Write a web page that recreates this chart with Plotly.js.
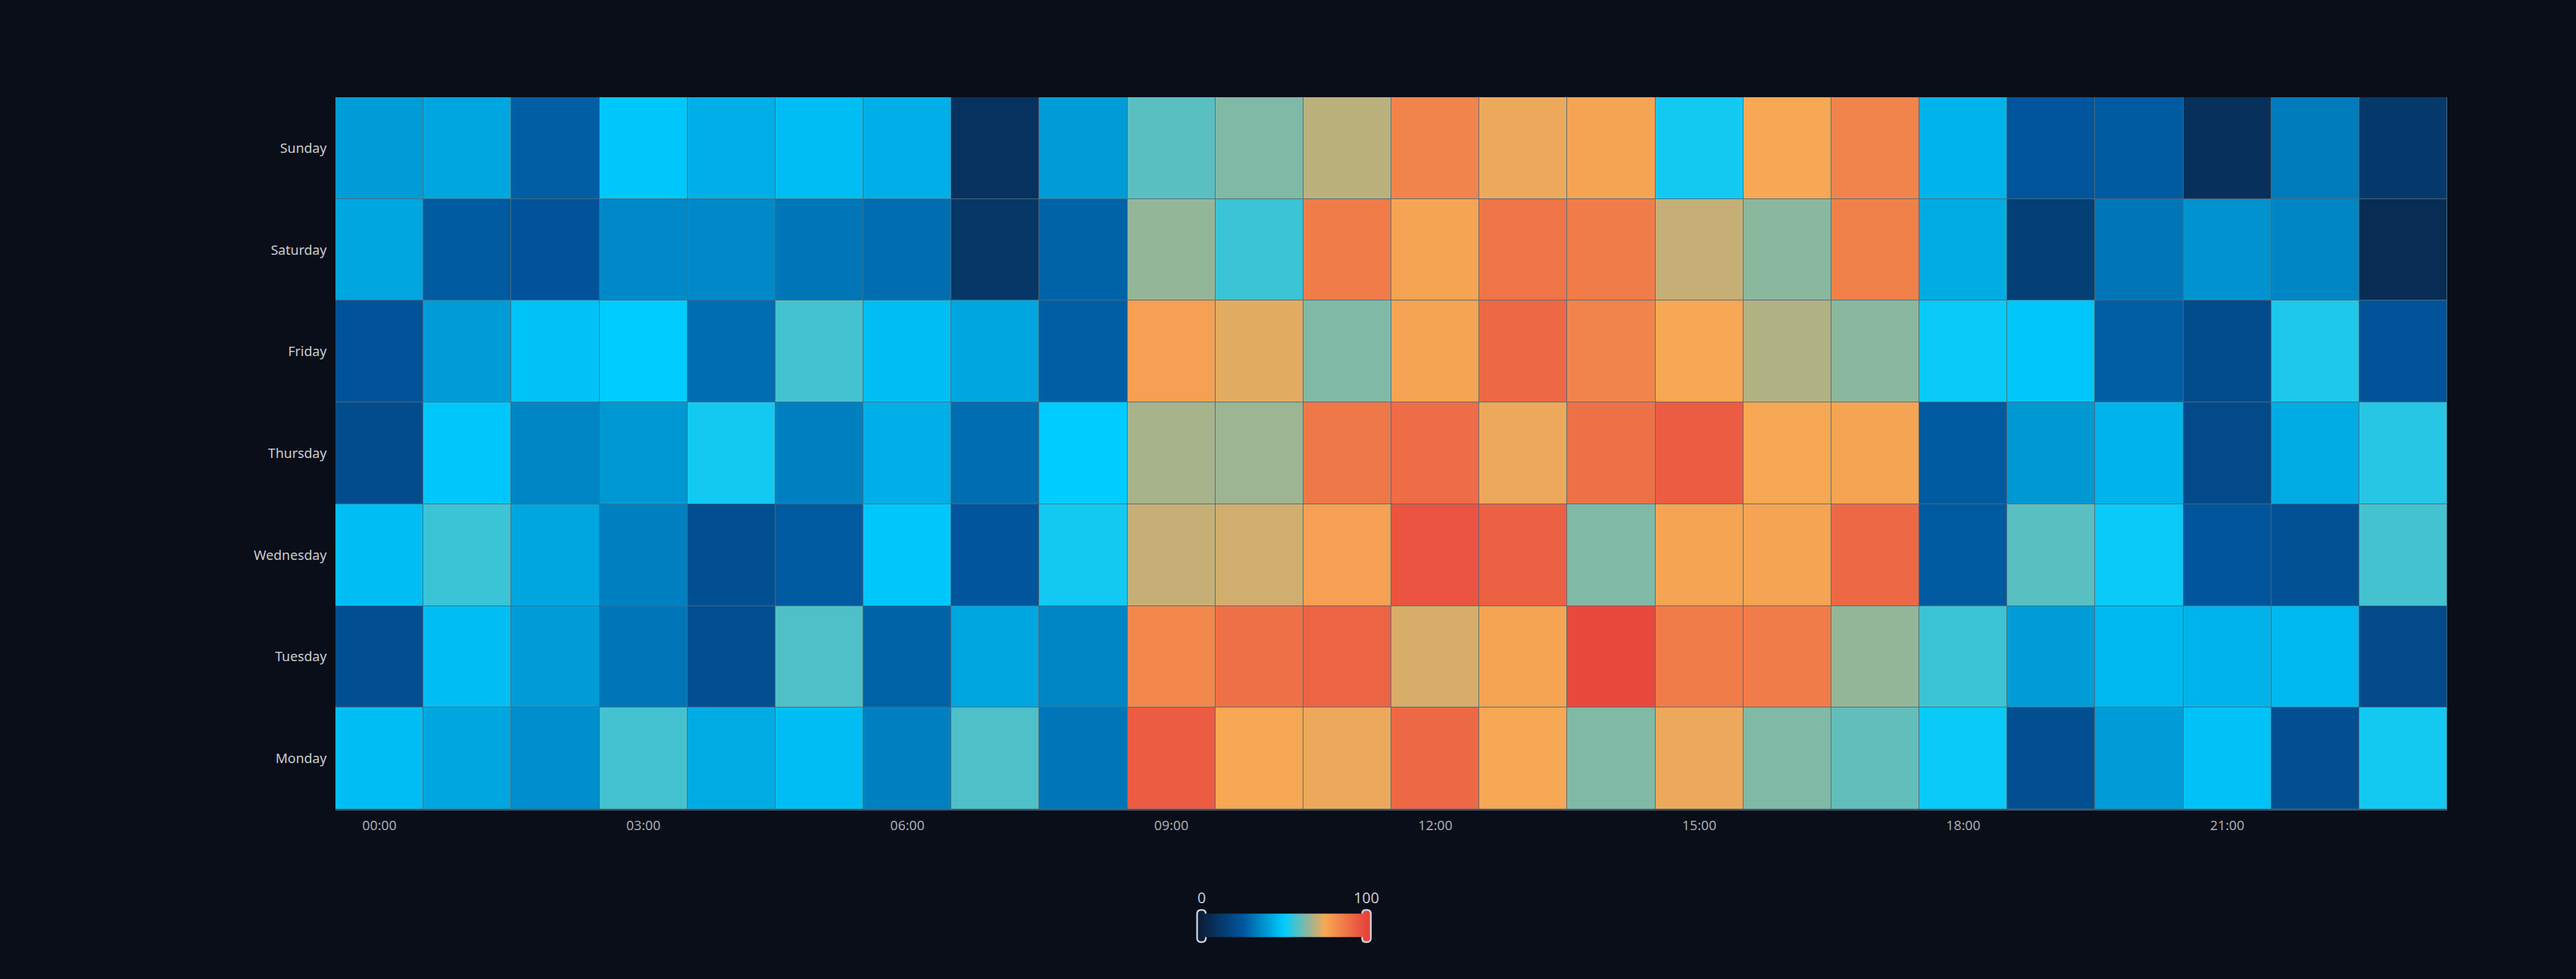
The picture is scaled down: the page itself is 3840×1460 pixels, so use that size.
<!DOCTYPE html>
<html>
<head>
<meta charset="utf-8">
<script src="https://cdn.plot.ly/plotly-3.0.1.min.js"></script>
<style>
  html, body { margin: 0; padding: 0; background: #0a0e18; }
  #chart { width: 3840px; height: 1460px; }
</style>
</head>
<body>
<div id="chart"></div>
<script>
// categories
var hours = ['00:00', '01:00', '02:00', '03:00', '04:00', '05:00', '06:00', '07:00',
             '08:00', '09:00', '10:00', '11:00', '12:00', '13:00', '14:00', '15:00',
             '16:00', '17:00', '18:00', '19:00', '20:00', '21:00', '22:00', '23:00'];
var days = ['Monday', 'Tuesday', 'Wednesday', 'Thursday', 'Friday', 'Saturday', 'Sunday'];
var hourTicks = ['00:00', '03:00', '06:00', '09:00', '12:00', '15:00', '18:00', '21:00'];

// values per day, one per hour
var monday    = [47, 42, 37, 57, 43, 47, 34, 58, 32, 94, 75, 74, 91, 75, 63, 74, 63, 60, 51, 22, 40, 48, 22, 52];
var tuesday   = [22, 47, 40, 32, 22, 58, 28, 42, 35, 83, 89, 92, 72, 76, 99, 86, 86, 65, 56, 40, 46, 45, 46, 20];
var wednesday = [47, 56, 42, 34, 22, 26, 49, 25, 52, 70, 71, 77, 96, 93, 63, 76, 76, 91, 26, 59, 51, 25, 23, 57];
var thursday  = [21, 49, 35, 39, 52, 34, 44, 30, 50, 67, 66, 87, 90, 74, 89, 94, 75, 76, 26, 39, 45, 20, 43, 54];
var friday    = [24, 40, 48, 50, 30, 57, 47, 42, 27, 77, 73, 63, 76, 91, 84, 75, 68, 64, 51, 49, 27, 21, 53, 24];
var saturday  = [42, 26, 24, 36, 36, 32, 30, 11, 28, 65, 56, 86, 76, 88, 86, 70, 64, 85, 43, 15, 32, 38, 35, 6];
var sunday    = [40, 42, 27, 49, 44, 47, 44, 9, 40, 59, 63, 69, 84, 74, 76, 52, 75, 84, 45, 25, 26, 8, 33, 12];

var zMin = 0;
var zMax = 100;

var W = 3840, H = 1460;
var L = 500, R = 192, T = 145, B = 253;

// pixel -> paper helpers (for the visualMap-style handles)
function px(x) { return (x - L) / (W - L - R); }
function py(y) { return (H - B - y) / (H - T - B); }

function handlePath(cx, y0, y1, w, r) {
	var x0 = cx - w / 2, x1 = cx + w / 2;
	return 'M' + px(x0 + r) + ',' + py(y0) +
	       ' L' + px(x1 - r) + ',' + py(y0) +
	       ' Q' + px(x1) + ',' + py(y0) + ' ' + px(x1) + ',' + py(y0 + r) +
	       ' L' + px(x1) + ',' + py(y1 - r) +
	       ' Q' + px(x1) + ',' + py(y1) + ' ' + px(x1 - r) + ',' + py(y1) +
	       ' L' + px(x0 + r) + ',' + py(y1) +
	       ' Q' + px(x0) + ',' + py(y1) + ' ' + px(x0) + ',' + py(y1 - r) +
	       ' L' + px(x0) + ',' + py(y0 + r) +
	       ' Q' + px(x0) + ',' + py(y0) + ' ' + px(x0 + r) + ',' + py(y0) + ' Z';
}

var colors = [
	[0, '#0b1f3d'],
	[0.25, '#00559c'],
	[0.5, '#00ccff'],
	[0.75, '#f6a854'],
	[1, '#e8443c']
];

var barLeft = 1791, barRight = 2037, barMid = 1380;

var trace = {
	type: 'heatmap',
	x: hours,
	y: days,
	z: [monday, tuesday, wednesday, thursday, friday, saturday, sunday],
	zmin: zMin,
	zmax: zMax,
	colorscale: colors,
	xgap: 1,
	ygap: 1,
	hoverinfo: 'x+y+z',
	colorbar: {
		orientation: 'h',
		lenmode: 'pixels',
		len: barRight - barLeft,
		thickness: 35,
		x: px((barLeft + barRight) / 2),
		xanchor: 'center',
		y: py(barMid),
		yanchor: 'middle',
		xpad: 0,
		ypad: 0,
		outlinewidth: 0,
		showticklabels: false,
		ticks: ''
	}
};

var layout = {
	width: W,
	height: H,
	paper_bgcolor: '#0a0e18',
	plot_bgcolor: '#4f6b78',
	margin: { l: L, r: R, t: T, b: B },
	font: { family: 'Noto Sans, sans-serif', size: 20, color: '#c4c8d0' },
	xaxis: {
		type: 'category',
		tickvals: hourTicks,
		ticktext: hourTicks,
		ticks: '',
		showgrid: false,
		zeroline: false,
		showline: true,
		linecolor: '#3c4a5c',
		linewidth: 2,
		ticklabelstandoff: 5,
		tickfont: { size: 20, color: '#a4aab4' }
	},
	yaxis: {
		type: 'category',
		ticks: '',
		showgrid: false,
		zeroline: false,
		showline: false,
		ticklabelstandoff: 12,
		tickfont: { size: 20, color: '#c8ccd4' }
	},
	shapes: [
		{
			type: 'path', xref: 'paper', yref: 'paper',
			path: handlePath(barLeft, 1357, 1405, 13, 6),
			fillcolor: '#0b1f3d',
			line: { color: '#cfd3da', width: 2.5 }
		},
		{
			type: 'path', xref: 'paper', yref: 'paper',
			path: handlePath(barRight, 1357, 1405, 13, 6),
			fillcolor: '#e8443c',
			line: { color: '#cfd3da', width: 2.5 }
		}
	],
	annotations: [
		{
			xref: 'paper', yref: 'paper', x: px(barLeft), y: py(1338),
			text: String(zMin), showarrow: false,
			xanchor: 'center', yanchor: 'middle',
			font: { size: 22, color: '#c4c8d0' }
		},
		{
			xref: 'paper', yref: 'paper', x: px(barRight), y: py(1338),
			text: String(zMax), showarrow: false,
			xanchor: 'center', yanchor: 'middle',
			font: { size: 22, color: '#c4c8d0' }
		}
	]
};

Plotly.newPlot('chart', [trace], layout, { displayModeBar: false, staticPlot: true });
</script>
</body>
</html>
